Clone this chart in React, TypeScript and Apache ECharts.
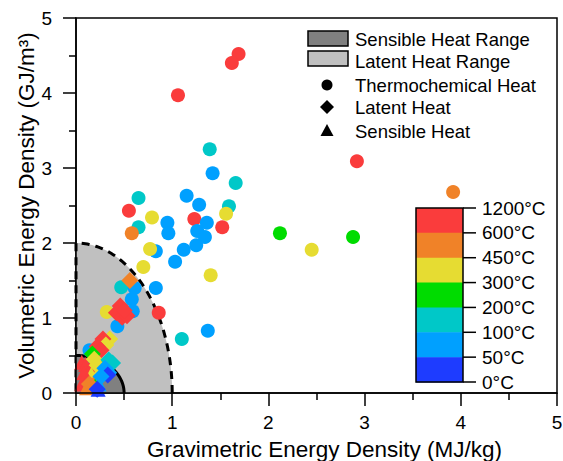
import React, { useEffect, useRef } from "react";
import * as echarts from "echarts";

// Temperature classes (index -> colour), from 0-50°C up to 600-1200°C
const tempColors = ["#1e3cff", "#00a0ff", "#00c8c8", "#00dc00", "#e6dc32", "#f08228", "#fa3c3c"];
const tempLabels = ["0°C", "50°C", "100°C", "200°C", "300°C", "450°C", "600°C", "1200°C"];

// [MJ/kg, GJ/m3, temperature class]
const thermochemical: number[][] = [
  [1.69, 4.52, 6], [1.62, 4.40, 6], [1.06, 3.97, 6], [2.92, 3.09, 6], [3.92, 2.68, 5],
  [1.39, 3.25, 2], [1.42, 2.93, 1], [1.66, 2.80, 2], [1.15, 2.63, 1], [0.65, 2.60, 2],
  [1.28, 2.51, 1], [1.59, 2.49, 2], [1.56, 2.39, 4], [0.55, 2.43, 6], [0.79, 2.34, 4],
  [1.23, 2.32, 6], [1.36, 2.27, 1], [0.95, 2.27, 1], [0.65, 2.21, 2], [1.52, 2.21, 6],
  [0.58, 2.13, 5], [0.96, 2.13, 1], [1.26, 2.16, 1], [1.34, 2.08, 1], [2.12, 2.13, 3],
  [2.88, 2.08, 3], [2.45, 1.91, 4], [1.25, 1.97, 1], [1.12, 1.91, 1], [0.83, 1.89, 1],
  [0.77, 1.92, 4], [1.03, 1.75, 1], [0.70, 1.68, 4], [1.40, 1.57, 4], [0.47, 1.41, 2],
  [0.61, 1.40, 1], [0.83, 1.40, 1], [0.58, 1.25, 1], [0.32, 1.08, 4], [0.59, 1.09, 1],
  [0.86, 1.07, 6], [0.43, 0.89, 1], [1.10, 0.72, 2], [1.37, 0.83, 1], [0.14, 0.57, 1],
];

const latent: number[][] = [
  [0.56, 1.50, 5], [0.46, 1.16, 6], [0.42, 1.07, 6], [0.48, 1.01, 6], [0.53, 1.03, 6],
  [0.50, 1.10, 6], [0.35, 0.72, 4], [0.28, 0.72, 6], [0.31, 0.64, 4], [0.22, 0.62, 6],
  [0.26, 0.57, 6], [0.17, 0.52, 3], [0.19, 0.45, 4], [0.34, 0.44, 2], [0.38, 0.40, 2],
  [0.22, 0.37, 4], [0.30, 0.33, 1], [0.34, 0.27, 1], [0.33, 0.24, 0], [0.26, 0.22, 1],
  [0.14, 0.12, 5], [0.22, 0.05, 0],
];

const sensible: number[][] = [
  [0.06, 0.41, 6], [0.10, 0.38, 6], [0.15, 0.33, 6], [0.08, 0.27, 6], [0.16, 0.25, 4],
  [0.20, 0.20, 4], [0.12, 0.18, 6], [0.19, 0.15, 5], [0.24, 0.12, 1], [0.06, 0.12, 6],
  [0.20, 0.10, 3], [0.11, 0.07, 5], [0.23, 0.05, 0],
];

// quarter-ellipse ranges: [MJ/kg radius, GJ/m3 radius]
const sensibleRange = [0.5, 0.5];
const latentRange = [1, 2];

const xTicks = [0, 5, 1];
const yTicks = [0, 5, 1];

const FONT = "'Liberation Sans', Arial, sans-serif";

function toData(arr: number[][]) {
  return arr.map((d) => ({ value: [d[0], d[1]], itemStyle: { color: tempColors[d[2]], opacity: 1 } }));
}

function rangeSeries(range: number[], fill: string, dashed: boolean, z: number) {
  return {
    type: "custom",
    z,
    silent: true,
    data: [[0, 0]],
    renderItem: (_p: any, api: any) => {
      const [rx, ry] = range;
      const pts: number[][] = [];
      const n = 80;
      for (let i = 0; i <= n; i++) {
        const t = (i / n) * (Math.PI / 2);
        pts.push(api.coord([rx * Math.cos(t), ry * Math.sin(t)]));
      }
      const origin = api.coord([0, 0]);
      const outline = dashed ? [...pts, origin] : pts;
      return {
        type: "group",
        children: [
          { type: "polygon", shape: { points: [origin, ...pts] }, style: { fill, stroke: "none" } },
          {
            type: "polyline",
            shape: { points: outline },
            style: { fill: "none", stroke: "#000", lineWidth: 3, lineDash: dashed ? [8, 6] : null },
          },
        ],
      };
    },
  };
}

export default function App() {
  const ref = useRef<HTMLDivElement>(null);
  useEffect(() => {
    if (!ref.current) return;
    const chart = echarts.init(ref.current, null, { renderer: "svg" });

    const barX = 416, barY = 208, barW = 47, barH = 174;
    const band = barH / 7;
    const cbGraphics: any[] = [];
    for (let i = 0; i < 7; i++) {
      cbGraphics.push({
        type: "rect",
        shape: { x: barX, y: barY + i * band, width: barW, height: band + 0.5 },
        style: { fill: tempColors[6 - i] },
      });
    }
    cbGraphics.push({
      type: "rect",
      shape: { x: barX, y: barY, width: barW, height: barH },
      style: { fill: "none", stroke: "#000", lineWidth: 1.5 },
    });
    for (let i = 0; i < 8; i++) {
      const y = barY + i * band;
      cbGraphics.push({
        type: "line",
        shape: { x1: barX + barW, y1: y, x2: barX + barW + 13, y2: y },
        style: { stroke: "#000", lineWidth: 1.5 },
      });
      cbGraphics.push({
        type: "text",
        x: barX + barW + 19,
        y,
        style: { text: tempLabels[7 - i], font: `19px ${FONT}`, fill: "#000", verticalAlign: "middle" },
      });
    }

    const legX = 308, textX = 355;
    const LF = `18.5px ${FONT}`;
    const legendGraphics: any[] = [
      { type: "rect", shape: { x: legX, y: 31, width: 40, height: 15 }, style: { fill: "#808080", stroke: "#000", lineWidth: 1.5 } },
      { type: "text", x: textX, y: 39, style: { text: "Sensible Heat Range", font: LF, fill: "#000", verticalAlign: "middle" } },
      { type: "rect", shape: { x: legX, y: 51, width: 40, height: 15 }, style: { fill: "#c0c0c0", stroke: "#000", lineWidth: 1.5 } },
      { type: "text", x: textX, y: 61, style: { text: "Latent Heat Range", font: LF, fill: "#000", verticalAlign: "middle" } },
      { type: "circle", shape: { cx: 327, cy: 85, r: 5.5 }, style: { fill: "#000" } },
      { type: "text", x: textX, y: 85, style: { text: "Thermochemical Heat", font: LF, fill: "#000", verticalAlign: "middle" } },
      { type: "polygon", shape: { points: [[327, 100], [334, 107], [327, 114], [320, 107]] }, style: { fill: "#000" } },
      { type: "text", x: textX, y: 107, style: { text: "Latent Heat", font: LF, fill: "#000", verticalAlign: "middle" } },
      { type: "polygon", shape: { points: [[327, 124], [333.5, 136], [320.5, 136]] }, style: { fill: "#000" } },
      { type: "text", x: textX, y: 131, style: { text: "Sensible Heat", font: LF, fill: "#000", verticalAlign: "middle" } },
    ];

    const axisCommon = {
      type: "value",
      z: 5,
      nameMoveOverlap: false,
      axisLine: { show: true, onZero: false, lineStyle: { color: "#000", width: 1.5 } },
      axisTick: { show: true, length: 13, lineStyle: { color: "#000", width: 1.5 } },
      minorTick: { show: true, splitNumber: 2, length: 7, lineStyle: { color: "#000", width: 1.5 } },
      splitLine: { show: false },
      nameLocation: "middle",
      nameTextStyle: { fontSize: 22.5, color: "#000", fontFamily: FONT },
      axisLabel: { fontSize: 19, color: "#000", fontFamily: FONT },
    };

    chart.setOption({
      animation: false,
      grid: {
        left: 76, right: 6, top: 18, bottom: 68,
        outerBoundsMode: "none",
        containLabel: false,
        show: true, borderColor: "#000", borderWidth: 1.5, backgroundColor: "transparent",
      },
      xAxis: {
        ...axisCommon,
        min: xTicks[0], max: xTicks[1], interval: xTicks[2],
        name: "Gravimetric Energy Density (MJ/kg)",
        nameGap: 45,
        nameTextStyle: { ...axisCommon.nameTextStyle, padding: [0, 0, 0, 16] },
        axisLabel: { ...axisCommon.axisLabel, margin: 20 },
      },
      yAxis: {
        ...axisCommon,
        min: yTicks[0], max: yTicks[1], interval: yTicks[2],
        name: "Volumetric Energy Density (GJ/m³)",
        nameGap: 38,
        axisLabel: { ...axisCommon.axisLabel, margin: 24 },
      },
      series: [
        rangeSeries(latentRange, "#c0c0c0", true, 1),
        rangeSeries(sensibleRange, "#808080", false, 1),
        { type: "scatter", name: "Thermochemical Heat", symbol: "circle", symbolSize: 14, z: 3, itemStyle: { opacity: 1 }, data: toData(thermochemical) },
        { type: "scatter", name: "Sensible Heat", symbol: "triangle", symbolSize: 15, z: 3, itemStyle: { opacity: 1 }, data: toData(sensible) },
        { type: "scatter", name: "Latent Heat", symbol: "diamond", symbolSize: 17, z: 3, itemStyle: { opacity: 1 }, data: toData(latent) },
      ],
      graphic: [...legendGraphics, ...cbGraphics],
    });
    return () => chart.dispose();
  }, []);
  return <div ref={ref} style={{ width: 563, height: 461, position: "absolute", left: 0, top: 0 }} />;
}
